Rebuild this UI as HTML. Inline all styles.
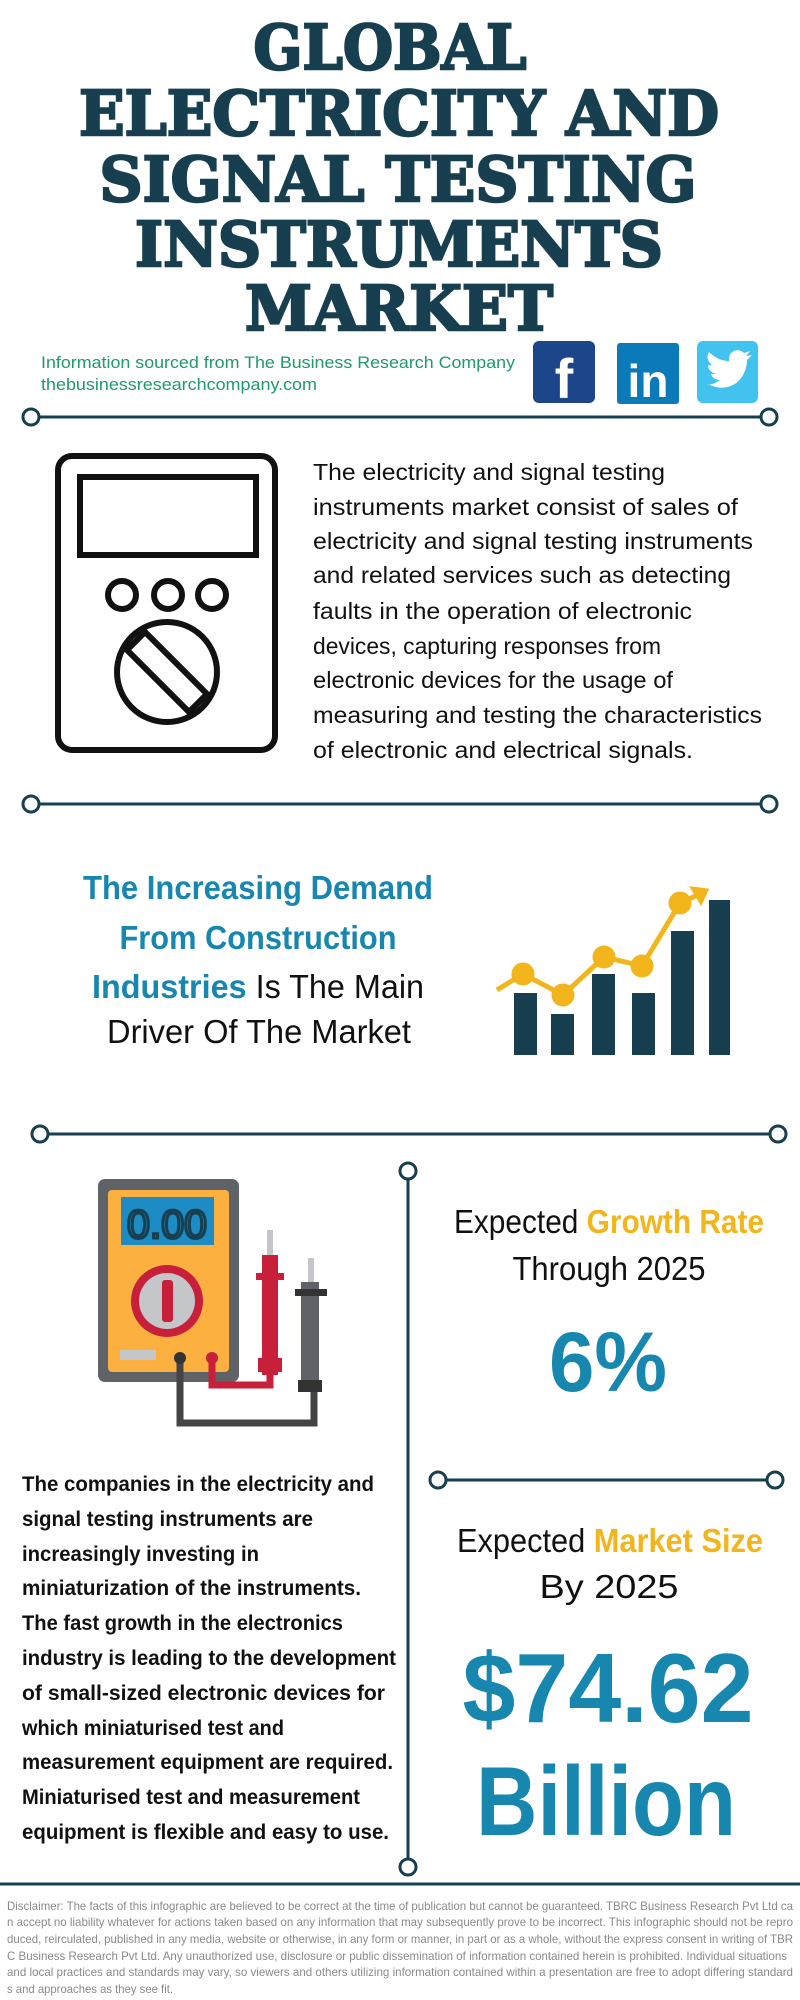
<!DOCTYPE html>
<html><head><meta charset="utf-8"><style>
html,body{margin:0;padding:0;background:#fff;width:800px;height:2000px;overflow:hidden}
svg{display:block}
.n{font-family:"Liberation Sans",sans-serif}
</style></head><body>
<svg width="800" height="2000" viewBox="0 0 800 2000" xmlns="http://www.w3.org/2000/svg">
<!-- Title -->
<g style="font-family:'DejaVu Serif','Liberation Serif',serif" font-weight="bold" font-size="62" fill="#173f4f" stroke="#173f4f" stroke-width="2.5" text-anchor="middle">
<text x="390" y="69" textLength="273" lengthAdjust="spacingAndGlyphs">GLOBAL</text>
<text x="399" y="135" textLength="640" lengthAdjust="spacingAndGlyphs">ELECTRICITY AND</text>
<text x="398" y="201" textLength="597" lengthAdjust="spacingAndGlyphs">SIGNAL TESTING</text>
<text x="399" y="266" textLength="528" lengthAdjust="spacingAndGlyphs">INSTRUMENTS</text>
<text x="399" y="330" textLength="308" lengthAdjust="spacingAndGlyphs">MARKET</text>
</g>
<g class="n" font-size="17" fill="#1f9a6a">
<text x="41" y="368" textLength="474" lengthAdjust="spacingAndGlyphs">Information sourced from The Business Research Company</text>
<text x="41" y="390" textLength="276" lengthAdjust="spacingAndGlyphs">thebusinessresearchcompany.com</text>
</g>
<!-- social icons -->
<rect x="533" y="341" width="62" height="62" rx="6" fill="#1d4589"/>
<text x="564" y="398" font-family="Liberation Sans,sans-serif" font-weight="bold" font-size="56" fill="#fff" text-anchor="middle">f</text>
<rect x="617" y="343" width="62" height="61" rx="3" fill="#0a7bb8"/>
<text x="648" y="397" font-family="Liberation Sans,sans-serif" font-weight="bold" font-size="46" fill="#fff" text-anchor="middle">in</text>
<rect x="697" y="341" width="61" height="62" rx="6" fill="#42c2ee"/>
<path d="M710 385c12 6 28 2 34-12 2-4 3-9 3-13l5-5-6 1 4-5-6 2c-5-5-14-3-15 5v3c-8 0-15-4-20-9-3 5-1 10 3 13h-4c0 5 4 8 8 9h-5c1 4 5 6 9 6-4 3-9 5-14 5z" fill="#fff"/>
<!-- lines -->
<g stroke="#173f4f" stroke-width="3" fill="#fff">
<line x1="39" y1="417" x2="761" y2="417"/>
<circle cx="31" cy="417" r="8"/><circle cx="769" cy="417" r="8"/>
<line x1="39" y1="804" x2="761" y2="804"/>
<circle cx="31" cy="804" r="8"/><circle cx="769" cy="804" r="8"/>
<line x1="48" y1="1134" x2="770" y2="1134"/>
<circle cx="40" cy="1134" r="8"/><circle cx="778" cy="1134" r="8"/>
<line x1="408" y1="1179" x2="408" y2="1859"/>
<circle cx="408" cy="1171" r="8"/><circle cx="408" cy="1867" r="8"/>
<line x1="446" y1="1480" x2="767" y2="1480"/>
<circle cx="438" cy="1480" r="8"/><circle cx="775" cy="1480" r="8"/>
</g>
<line x1="0" y1="1884" x2="800" y2="1884" stroke="#173f4f" stroke-width="3"/>
<!-- multimeter outline icon -->
<g fill="none" stroke="#111" stroke-width="6">
<rect x="58" y="456" width="217" height="294" rx="14"/>
<rect x="80" y="477" width="176" height="78"/>
<circle cx="122" cy="595" r="14"/><circle cx="168" cy="595" r="14"/><circle cx="212" cy="595" r="14"/>
<circle cx="167" cy="672" r="50"/>
<path d="M127 650 L145 632 L207 694 L189 712 Z"/>
</g>
<g class="n" font-size="23" fill="#111">
<text x="313" y="480" textLength="352" lengthAdjust="spacingAndGlyphs">The electricity and signal testing</text>
<text x="313" y="515" textLength="425" lengthAdjust="spacingAndGlyphs">instruments market consist of sales of</text>
<text x="313" y="549" textLength="440" lengthAdjust="spacingAndGlyphs">electricity and signal testing instruments</text>
<text x="313" y="583" textLength="418" lengthAdjust="spacingAndGlyphs">and related services such as detecting</text>
<text x="313" y="619" textLength="379" lengthAdjust="spacingAndGlyphs">faults in the operation of electronic</text>
<text x="313" y="654" textLength="348" lengthAdjust="spacingAndGlyphs">devices, capturing responses from</text>
<text x="313" y="688" textLength="360" lengthAdjust="spacingAndGlyphs">electronic devices for the usage of</text>
<text x="313" y="723" textLength="449" lengthAdjust="spacingAndGlyphs">measuring and testing the characteristics</text>
<text x="313" y="758" textLength="380" lengthAdjust="spacingAndGlyphs">of electronic and electrical signals.</text>
</g>
<!-- headline -->
<g class="n" font-size="33" text-anchor="middle">
<text x="258" y="899" fill="#1787b0" font-weight="bold" textLength="350" lengthAdjust="spacingAndGlyphs">The Increasing Demand</text>
<text x="258" y="949" fill="#1787b0" font-weight="bold" textLength="277" lengthAdjust="spacingAndGlyphs">From Construction</text>
<text x="258" y="998" fill="#111" textLength="332" lengthAdjust="spacingAndGlyphs"><tspan fill="#1787b0" font-weight="bold">Industries</tspan> Is The Main</text>
<text x="259" y="1043" fill="#111" textLength="304" lengthAdjust="spacingAndGlyphs">Driver Of The Market</text>
</g>
<!-- chart icon -->
<g fill="#173f4f">
<rect x="514" y="993" width="23" height="62"/>
<rect x="551" y="1014" width="23" height="41"/>
<rect x="592" y="974" width="23" height="81"/>
<rect x="632" y="993" width="23" height="62"/>
<rect x="671" y="931" width="23" height="124"/>
<rect x="709" y="900" width="21" height="155"/>
</g>
<g stroke="#f2b51c" stroke-width="5" fill="#f2b51c">
<polyline points="497,990 523,974 563,995 604,957 642,966 680,903 700,894" fill="none"/>
<circle cx="523" cy="974" r="9"/><circle cx="563" cy="995" r="9"/><circle cx="604" cy="957" r="9"/><circle cx="642" cy="966" r="9"/><circle cx="680" cy="903" r="9"/>
<path d="M692 888 L707 890 L701 903 Z" stroke-width="3"/>
</g>
<!-- colored multimeter -->
<rect x="98" y="1179" width="141" height="203" rx="7" fill="#5f6266"/>
<rect x="108" y="1190" width="121" height="182" rx="4" fill="#fbb040"/>
<rect x="121" y="1197" width="93" height="48" fill="#1d8cc4"/>
<text x="167" y="1238" text-anchor="middle" font-family="Liberation Sans,sans-serif" font-size="40" fill="#1d8cc4" stroke="#173f4f" stroke-width="3" textLength="80" lengthAdjust="spacingAndGlyphs">0.00</text>
<circle cx="167" cy="1301" r="36" fill="#c8203a"/>
<circle cx="167" cy="1301" r="28" fill="#c4c6c9"/>
<rect x="162" y="1280" width="11" height="42" rx="3" fill="#c8203a"/>
<rect x="120" y="1350" width="36" height="10" fill="#c4c6c9"/>
<path d="M180 1356 V1423 H314 V1391" fill="none" stroke="#444" stroke-width="7"/>
<path d="M212 1356 V1385 H270 V1372" fill="none" stroke="#c8203a" stroke-width="7"/>
<circle cx="180" cy="1358" r="6" fill="#333"/><circle cx="212" cy="1358" r="6" fill="#c8203a"/>
<rect x="267" y="1230" width="6" height="26" fill="#c4c6c9"/>
<rect x="262" y="1255" width="16" height="120" fill="#c8203a"/>
<rect x="256" y="1273" width="28" height="7" fill="#c8203a"/>
<rect x="258" y="1358" width="24" height="14" fill="#c8203a"/>
<rect x="308" y="1258" width="6" height="26" fill="#c4c6c9"/>
<rect x="301" y="1282" width="18" height="110" fill="#5f6266"/>
<rect x="295" y="1289" width="32" height="7" fill="#333"/>
<rect x="298" y="1380" width="24" height="12" fill="#333"/>
<!-- left text -->
<g class="n" font-size="21" font-weight="bold" fill="#111">
<text x="22" y="1491" textLength="352" lengthAdjust="spacingAndGlyphs">The companies in the electricity and</text>
<text x="22" y="1526" textLength="291" lengthAdjust="spacingAndGlyphs">signal testing instruments are</text>
<text x="22" y="1561" textLength="237" lengthAdjust="spacingAndGlyphs">increasingly investing in</text>
<text x="22" y="1595" textLength="339" lengthAdjust="spacingAndGlyphs">miniaturization of the instruments.</text>
<text x="22" y="1630" textLength="321" lengthAdjust="spacingAndGlyphs">The fast growth in the electronics</text>
<text x="22" y="1665" textLength="374" lengthAdjust="spacingAndGlyphs">industry is leading to the development</text>
<text x="22" y="1700" textLength="363" lengthAdjust="spacingAndGlyphs">of small-sized electronic devices for</text>
<text x="22" y="1735" textLength="262" lengthAdjust="spacingAndGlyphs">which miniaturised test and</text>
<text x="22" y="1769" textLength="371" lengthAdjust="spacingAndGlyphs">measurement equipment are required.</text>
<text x="22" y="1804" textLength="338" lengthAdjust="spacingAndGlyphs">Miniaturised test and measurement</text>
<text x="22" y="1839" textLength="367" lengthAdjust="spacingAndGlyphs">equipment is flexible and easy to use.</text>
</g>
<!-- right stats -->
<g class="n" font-size="33" text-anchor="middle" fill="#111">
<text x="609" y="1233" textLength="310" lengthAdjust="spacingAndGlyphs">Expected <tspan fill="#f2b51c" font-weight="bold">Growth Rate</tspan></text>
<text x="609" y="1280" textLength="193" lengthAdjust="spacingAndGlyphs">Through 2025</text>
<text x="610" y="1552" textLength="306" lengthAdjust="spacingAndGlyphs">Expected <tspan fill="#f2b51c" font-weight="bold">Market Size</tspan></text>
<text x="609" y="1598" textLength="139" lengthAdjust="spacingAndGlyphs">By 2025</text>
</g>
<g font-family="Liberation Sans,sans-serif" font-weight="bold" fill="#1787b0" text-anchor="middle">
<text x="608" y="1391" font-size="84" textLength="118" lengthAdjust="spacingAndGlyphs">6%</text>
<text x="608" y="1722" font-size="98" textLength="291" lengthAdjust="spacingAndGlyphs">$74.62</text>
<text x="606" y="1835" font-size="98" textLength="260" lengthAdjust="spacingAndGlyphs">Billion</text>
</g>
<!-- disclaimer -->
<g class="n" font-size="12" fill="#8a8a8a">
<text x="7" y="1910" textLength="786" lengthAdjust="spacingAndGlyphs">Disclaimer: The facts of this infographic are believed to be correct at the time of publication but cannot be guaranteed. TBRC Business Research Pvt Ltd ca</text>
<text x="7" y="1926" textLength="786" lengthAdjust="spacingAndGlyphs">n accept no liability whatever for actions taken based on any information that may subsequently prove to be incorrect. This infographic should not be repro</text>
<text x="7" y="1943" textLength="786" lengthAdjust="spacingAndGlyphs">duced, reirculated, published in any media, website or otherwise, in any form or manner, in part or as a whole, without the express consent in writing of TBR</text>
<text x="7" y="1960" textLength="780" lengthAdjust="spacingAndGlyphs">C Business Research Pvt Ltd. Any unauthorized use, disclosure or public dissemination of information contained herein is prohibited. Individual situations</text>
<text x="7" y="1976" textLength="786" lengthAdjust="spacingAndGlyphs">and local practices and standards may vary, so viewers and others utilizing information contained within a presentation are free to adopt differing standard</text>
<text x="7" y="1993" textLength="166" lengthAdjust="spacingAndGlyphs">s and approaches as they see fit.</text>
</g>
</svg>
</body></html>
